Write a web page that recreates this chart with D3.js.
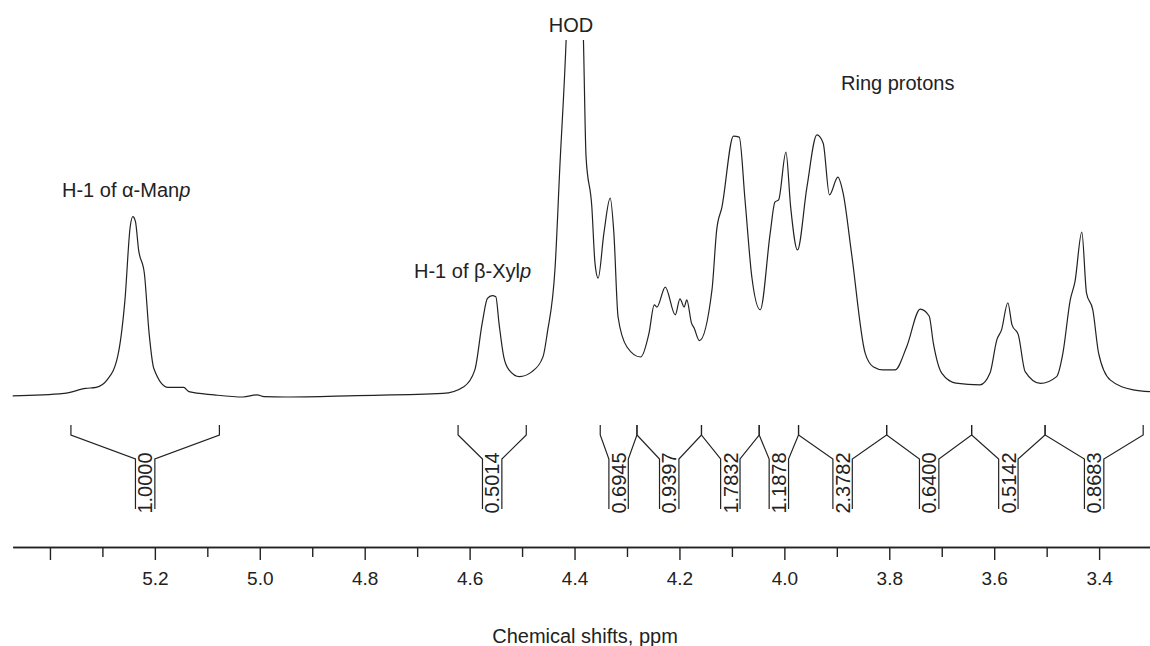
<!DOCTYPE html>
<html>
<head>
<meta charset="utf-8">
<script src="https://cdn.jsdelivr.net/npm/d3@7"></script>
<style>
  body { margin: 0; background: #fff; }
  svg { display: block; }
  text { font-family: "Liberation Sans", Arial, Helvetica, sans-serif; fill: #222; }
</style>
</head>
<body>
<script>
// spectrum (ppm, relative height)
var shiftPpm = [5.471, 5.373, 5.332, 5.312, 5.291, 5.271, 5.257, 5.247, 5.242, 5.237,
  5.231, 5.220, 5.211, 5.202, 5.175, 5.145, 5.135, 5.087, 5.032, 5.005,
  4.992, 4.951, 4.815, 4.651, 4.611, 4.590, 4.576, 4.566, 4.557, 4.550,
  4.544, 4.535, 4.525, 4.505, 4.481, 4.460, 4.452, 4.437, 4.428, 4.416,
  4.400, 4.383, 4.378, 4.367, 4.361, 4.355, 4.344, 4.332, 4.325, 4.317,
  4.300, 4.274, 4.258, 4.248, 4.243, 4.227, 4.208, 4.199, 4.191, 4.186,
  4.177, 4.172, 4.162, 4.138, 4.129, 4.119, 4.097, 4.086, 4.075, 4.062,
  4.046, 4.027, 4.018, 4.011, 3.997, 3.988, 3.975, 3.957, 3.938, 3.926,
  3.914, 3.898, 3.888, 3.872, 3.846, 3.830, 3.812, 3.789, 3.767, 3.741,
  3.724, 3.716, 3.700, 3.673, 3.627, 3.608, 3.595, 3.586, 3.574, 3.566,
  3.554, 3.541, 3.512, 3.481, 3.469, 3.455, 3.446, 3.433, 3.424, 3.412,
  3.401, 3.379, 3.335, 3.303];
var intensity = [0.3, 1.0, 2.4, 2.7, 4.8, 11.3, 27.2, 47.7, 50.5, 49.1,
  41.2, 34.6, 17.9, 8.0, 2.7, 2.7, 1.5, 0.6, 0.0, 0.6,
  0.1, 0.0, 0.4, 1.0, 2.9, 7.6, 20.7, 27.6, 28.4, 28.1,
  20.7, 11.3, 7.6, 5.7, 7.1, 11.3, 17.9, 36.4, 64.4, 100,
  180, 100, 67.2, 53.2, 37.5, 33.3, 45.9, 55.7, 45.9, 22.4,
  14.0, 11.2, 17.9, 25.8, 25.2, 30.8, 23.0, 27.5, 25.2, 27.2,
  20.7, 19.3, 15.8, 30.0, 46.8, 53.2, 73.1, 72.8, 55.2, 33.6,
  24.4, 45.9, 54.6, 55.2, 68.6, 53.2, 41.2, 58.8, 73.4, 71.1,
  56.6, 61.6, 57.1, 40.3, 12.3, 8.4, 7.6, 7.6, 14.0, 24.6,
  22.7, 15.1, 6.7, 3.9, 3.4, 6.7, 16.0, 18.8, 26.4, 20.2,
  17.4, 7.1, 3.8, 5.7, 12.3, 27.2, 32.3, 46.2, 29.1, 24.4,
  12.3, 4.8, 2.0, 1.5];

// integration regions
var integralStart = [5.360, 4.622, 4.351, 4.281, 4.158, 4.048, 3.973, 3.805, 3.643, 3.503];
var integralEnd = [5.077, 4.492, 4.281, 4.158, 4.048, 3.973, 3.805, 3.643, 3.503, 3.316];
var integralValues = ["1.0000", "0.5014", "0.6945", "0.9397", "1.7832", "1.1878", "2.3782", "0.6400", "0.5142", "0.8683"];

var majorTicks = [5.4, 5.2, 5.0, 4.8, 4.6, 4.4, 4.2, 4.0, 3.8, 3.6, 3.4];
var minorTicks = [5.3, 5.1, 4.9, 4.7, 4.5, 4.3, 4.1, 3.9, 3.7, 3.5];
var tickLabels = ["", "5.2", "5.0", "4.8", "4.6", "4.4", "4.2", "4.0", "3.8", "3.6", "3.4"];

var WIDTH = 1150,
    HEIGHT = 646,
    AXIS_Y = 547,
    INK = "#222";

var svg = d3.select("body").append("svg")
  .attr("width", WIDTH)
  .attr("height", HEIGHT);

var xScale = d3.scaleLinear().domain([5.471, 3.303]).range([12.7, 1150]);
var yScale = d3.scaleLinear().domain([0, 100]).range([397, 40]);

svg.append("clipPath")
    .attr("id", "plotclip")
  .append("rect")
    .attr("x", 0)
    .attr("y", 40)
    .attr("width", WIDTH)
    .attr("height", 420);

var points = shiftPpm.map(function(p, i) { return {x: p, y: intensity[i]}; });

var lineFunc = d3.line()
  .x(function(d) { return xScale(d.x); })
  .y(function(d) { return yScale(d.y); })
  .curve(d3.curveMonotoneX);

svg.append("path")
  .attr("d", lineFunc(points))
  .attr("clip-path", "url(#plotclip)")
  .attr("fill", "none")
  .attr("stroke", INK)
  .attr("stroke-width", 1.2);

//// integral brackets
var half = 9.7;
integralValues.forEach(function(val, i) {
  var xs = xScale(integralStart[i]),
      xe = xScale(integralEnd[i]),
      xc = (xs + xe) / 2;
  var bracket = d3.line();
  svg.append("path")
    .attr("d", bracket([[xs, 425], [xs, 435], [xc - half, 459], [xc - half, 509]]))
    .attr("fill", "none").attr("stroke", INK).attr("stroke-width", 1.2);
  svg.append("path")
    .attr("d", bracket([[xc + half, 509], [xc + half, 459], [xe, 435], [xe, 425]]))
    .attr("fill", "none").attr("stroke", INK).attr("stroke-width", 1.2);
  svg.append("text")
    .attr("transform", "translate(" + xc + ",483) rotate(-90)")
    .attr("text-anchor", "middle")
    .attr("dy", "0.36em")
    .style("font-size", "20px")
    .text(val);
});

//// axis
var minorAxis = d3.axisBottom(xScale)
  .tickValues(minorTicks)
  .tickSize(10)
  .tickSizeOuter(0)
  .tickFormat("");

var majorAxis = d3.axisBottom(xScale)
  .tickValues(majorTicks)
  .tickSize(13)
  .tickSizeOuter(0)
  .tickPadding(12)
  .tickFormat(function(d, i) { return tickLabels[i]; });

svg.append("g")
  .attr("transform", "translate(0," + AXIS_Y + ")")
  .call(minorAxis);

var gx = svg.append("g")
  .attr("transform", "translate(0," + AXIS_Y + ")")
  .call(majorAxis);

svg.selectAll(".domain, .tick line")
  .attr("stroke", INK)
  .attr("stroke-width", 1.4);

gx.selectAll(".tick text")
  .style("font-size", "19px")
  .style("font-family", "'Liberation Sans', Arial, Helvetica, sans-serif")
  .attr("fill", INK);

svg.append("text")
  .attr("x", 585)
  .attr("y", 643)
  .attr("text-anchor", "middle")
  .style("font-size", "20px")
  .text("Chemical shifts, ppm");

//// peak labels
svg.append("text")
  .attr("x", 571)
  .attr("y", 32)
  .attr("text-anchor", "middle")
  .style("font-size", "20px")
  .text("HOD");

svg.append("text")
  .attr("x", 841)
  .attr("y", 90)
  .style("font-size", "20px")
  .text("Ring protons");

var alphaLabel = svg.append("text")
  .attr("x", 62)
  .attr("y", 197)
  .style("font-size", "20px");
alphaLabel.append("tspan").text("H-1 of \u03b1-Man");
alphaLabel.append("tspan").style("font-style", "italic").text("p");

var betaLabel = svg.append("text")
  .attr("x", 414)
  .attr("y", 278)
  .style("font-size", "20px");
betaLabel.append("tspan").text("H-1 of \u03b2-Xyl");
betaLabel.append("tspan").style("font-style", "italic").text("p");
</script>
</body>
</html>
